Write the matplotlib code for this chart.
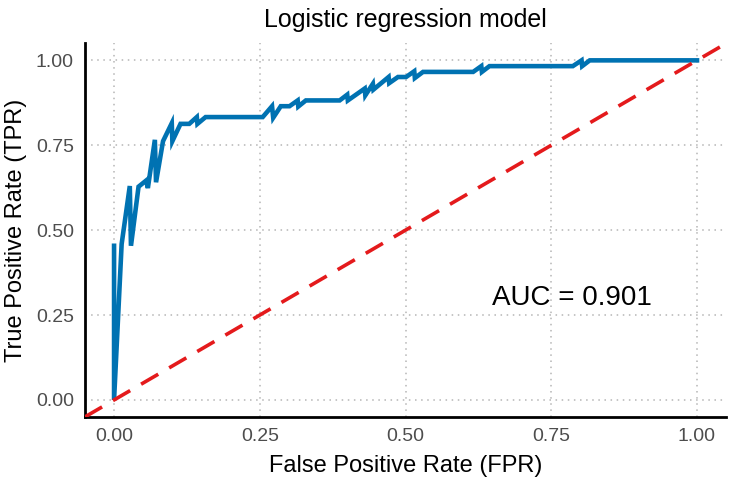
import matplotlib
matplotlib.use("Agg")
import matplotlib.pyplot as plt

# ROC points (kept in plotting order, with the zigzags)
fpr = [0.0, 0.0, 0.013, 0.027, 0.029, 0.042, 0.055, 0.058, 0.070, 0.072,
       0.084, 0.099, 0.100, 0.114, 0.129, 0.142, 0.143, 0.157, 0.255, 0.271,
       0.273, 0.286, 0.301, 0.315, 0.316, 0.329, 0.387, 0.400, 0.401, 0.430,
       0.431, 0.444, 0.445, 0.471, 0.472, 0.487, 0.501, 0.515, 0.516, 0.530,
       0.616, 0.630, 0.631, 0.644, 0.787, 0.802, 0.803, 0.816, 1.0]
tpr = [0.454, 0.0, 0.459, 0.630, 0.454, 0.628, 0.646, 0.624, 0.766, 0.641,
       0.762, 0.815, 0.762, 0.813, 0.813, 0.833, 0.813, 0.833, 0.833, 0.865,
       0.831, 0.865, 0.865, 0.882, 0.864, 0.882, 0.882, 0.899, 0.882, 0.917,
       0.897, 0.931, 0.914, 0.951, 0.933, 0.951, 0.951, 0.968, 0.948, 0.966,
       0.966, 0.983, 0.966, 0.983, 0.983, 1.0, 0.983, 1.0, 1.0]
ticks = [0.0, 0.25, 0.5, 0.75, 1.0]
tick_labels = ["0.00", "0.25", "0.50", "0.75", "1.00"]
auc = 0.901

plt.rcParams['font.family'] = ['Liberation Sans', 'DejaVu Sans']

fig = plt.figure(figsize=(7.32, 4.82), dpi=100)
ax = fig.add_axes([0.116, 0.135, 0.876, 0.775])

ax.plot(fpr, tpr, color="#0072B2", lw=3.3, solid_joinstyle="miter", zorder=3)
ax.axline((0, 0), slope=1, color="#E41A1C", lw=2.6, ls=(0, (5.5, 3.5)), zorder=4)

ax.text(0.785, 0.30, "AUC = %.3f" % auc, ha="center", va="center", fontsize=20)

ax.set_xlim(-0.05, 1.05)
ax.set_ylim(-0.05, 1.05)
ax.set_xticks(ticks)
ax.set_xticklabels(tick_labels)
ax.set_yticks(ticks)
ax.set_yticklabels(tick_labels)
ax.tick_params(length=0, labelsize=14, labelcolor="#4D4D4D", pad=8)

ax.grid(True, color="#B5B5B5", ls=(0, (1, 3)), lw=1.1)
ax.set_axisbelow(True)
for s in ["top", "right"]:
    ax.spines[s].set_visible(False)
for s in ["left", "bottom"]:
    ax.spines[s].set_linewidth(2.0)
    ax.spines[s].set_color("black")

ax.set_xlabel("False Positive Rate (FPR)", fontsize=17, labelpad=7)
ax.set_ylabel("True Positive Rate (TPR)", fontsize=17, labelpad=6)
ax.set_title("Logistic regression model", fontsize=18, pad=12)

fig.savefig("out.png", dpi=100)
